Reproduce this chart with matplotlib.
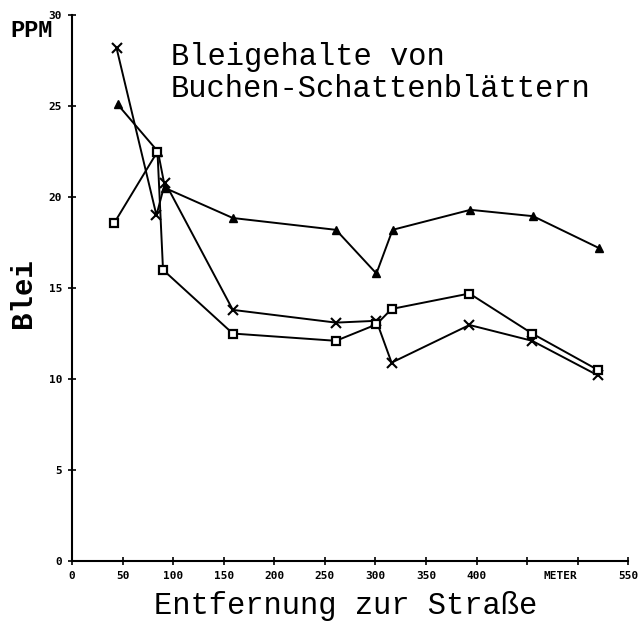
import matplotlib
matplotlib.use("Agg")
import matplotlib.pyplot as plt

# Data (distance in m, lead in ppm)
x_tri = [45, 85, 92, 159, 261, 301, 317, 394, 456, 521]
y_tri = [25.1, 22.5, 20.5, 18.85, 18.2, 15.8, 18.2, 19.3, 18.95, 17.2]

x_cross = [44, 83.5, 92, 159, 261, 301, 316, 393, 455, 520]
y_cross = [28.2, 19.0, 20.8, 13.8, 13.1, 13.2, 10.9, 12.97, 12.1, 10.2]

x_sq = [42, 84.5, 90, 159, 261, 301, 316, 393, 455, 520]
y_sq = [18.6, 22.5, 16.0, 12.5, 12.1, 13.0, 13.85, 14.7, 12.5, 10.5]

xticks = [0, 50, 100, 150, 200, 250, 300, 350, 400, 450, 500, 550]
xticklabels = ["0", "50", "100", "150", "200", "250", "300", "350", "400", "", "", "550"]
yticks = [0, 5, 10, 15, 20, 25, 30]

fig = plt.figure(figsize=(6.43, 6.31), dpi=100)
ax = fig.add_axes([0.112, 0.111, 0.865, 0.865])

lw = 1.4
ax.plot(x_tri, y_tri, color="black", lw=lw, marker="^", ms=5.5, mfc="black", mec="black")
ax.plot(x_cross, y_cross, color="black", lw=lw, marker="x", ms=7, mew=1.5)
ax.plot(x_sq, y_sq, color="black", lw=lw, marker="s", ms=5.5, mfc="white", mec="black", mew=1.6)

ax.set_xlim(0, 550)
ax.set_ylim(0, 30)
for s in ["top", "right"]:
    ax.spines[s].set_visible(False)
for s in ["left", "bottom"]:
    ax.spines[s].set_linewidth(1.5)

tick_font = dict(family="DejaVu Sans Mono", weight="bold", size=8)
ax.set_xticks(xticks)
ax.set_xticklabels(xticklabels, fontdict=tick_font)
ax.set_yticks(yticks)
ax.set_yticklabels([str(v) for v in yticks], fontdict=tick_font)
ax.tick_params(direction="inout", length=6, width=1.2, pad=4)

ax.annotate("METER", xy=(483, 0), xycoords=("data", "axes fraction"),
            xytext=(0, -7), textcoords="offset points", ha="center", va="top",
            **tick_font)

mono = "Liberation Mono"
ax.text(98, 28.55, "Bleigehalte von\nBuchen-Schattenblättern", family=mono,
        fontsize=22, ha="left", va="top", linespacing=1.1)
fig.text(0.016, 0.951, "PPM", family=mono, fontsize=17, weight="bold",
         ha="left", va="center")
fig.text(0.035, 0.535, "Blei", family=mono, fontsize=21, weight="bold", rotation=90,
         ha="center", va="center")
fig.text(0.537, 0.04, "Entfernung zur Straße", family=mono, fontsize=22,
         ha="center", va="center")

fig.savefig("out.png", dpi=100)
